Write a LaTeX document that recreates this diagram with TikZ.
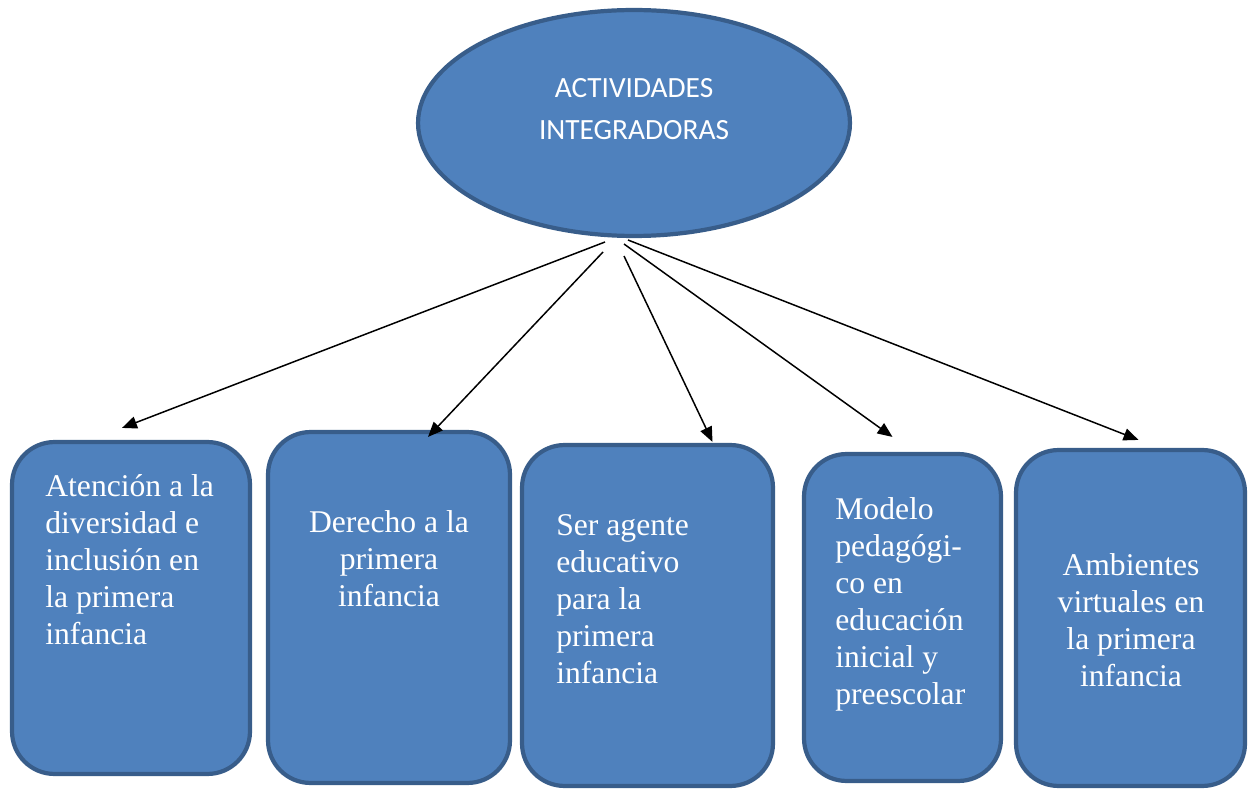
\documentclass[tikz,border=0pt]{standalone}
\usepackage{fontspec}
\setmainfont{Liberation Serif}
\newfontfamily\figSans{Carlito}
\usetikzlibrary{shapes.geometric,arrows.meta,calc}
\definecolor{figFill}{HTML}{4F81BD}
\definecolor{figEdge}{HTML}{385D8A}
\definecolor{figText}{HTML}{FFFFFF}
\definecolor{figArrow}{HTML}{000000}

\begin{document}
\begin{tikzpicture}[x=0.02cm,y=-0.02cm,
    box/.style={draw=figEdge,fill=figFill,line width=2.4pt,rounded corners=0.85cm,inner sep=0pt},
    boxtext/.style={text=figText,inner sep=0pt,font=\fontsize{18}{21.1}\selectfont},
    link/.style={figArrow,line width=0.85pt,-{Triangle[length=8.5pt,width=7pt]}}]
    \useasboundingbox (0,0) rectangle (1250,790);
    % top ellipse
    \node[ellipse,draw=figEdge,fill=figFill,line width=2.4pt,minimum width=8.64cm,minimum height=4.52cm] (act) at (634,123) {};
    \node[text=figText,align=center,font=\figSans\fontsize{16.7}{24.2}\selectfont] (acttxt) at (634,109) {ACTIVIDADES\\INTEGRADORAS};
    % boxes
    \node[box,minimum width=4.76cm,minimum height=6.64cm] (b1) at (131,608) {};
    \node[box,minimum width=4.84cm,minimum height=7.02cm] (b2) at (389,607.5) {};
    \node[box,minimum width=5.02cm,minimum height=6.82cm] (b3) at (647.5,615.5) {};
    \node[box,minimum width=3.94cm,minimum height=6.54cm] (b4) at (902.5,617.5) {};
    \node[box,minimum width=4.58cm,minimum height=6.72cm] (b5) at (1130.5,618) {};
    % texts in the boxes
    \node[boxtext,align=left,anchor=north west] (t1) at (45,474) {Atención a la\\diversidad e\\inclusión en\\la primera\\infancia};
    \node[boxtext,align=center,anchor=north] (t2) at (389,510) {Derecho a la\\primera\\infancia};
    \node[boxtext,align=left,anchor=north west] (t3) at (556,514) {Ser agente\\educativo\\para la\\primera\\infancia};
    \node[boxtext,align=left,anchor=north west] (t4) at (835,497) {Modelo\\pedagógi-\\co en\\educación\\inicial y\\preescolar};
    \node[boxtext,align=center,anchor=north] (t5) at (1131,553) {Ambientes\\virtuales en\\la primera\\infancia};
    % arrow starts under the ellipse
    \coordinate (s1) at (605,242);
    \coordinate (s2) at (603,252);
    \coordinate (s3) at (624,256);
    \coordinate (s4) at (624,244);
    \coordinate (s5) at (628,240);
    % arrows
    \draw[link] (s1) -- ($(b1.north)+(-9,-12)$);
    \draw[link] (s2) -- ($(b2.north)+(39,7)$);
    \draw[link] (s3) -- ($(b3.north)+(65,-1)$);
    \draw[link] (s4) -- ($(b4.north)+(-10,-15)$);
    \draw[link] (s5) -- ($(b5.north)+(8,-8)$);
\end{tikzpicture}
\end{document}
